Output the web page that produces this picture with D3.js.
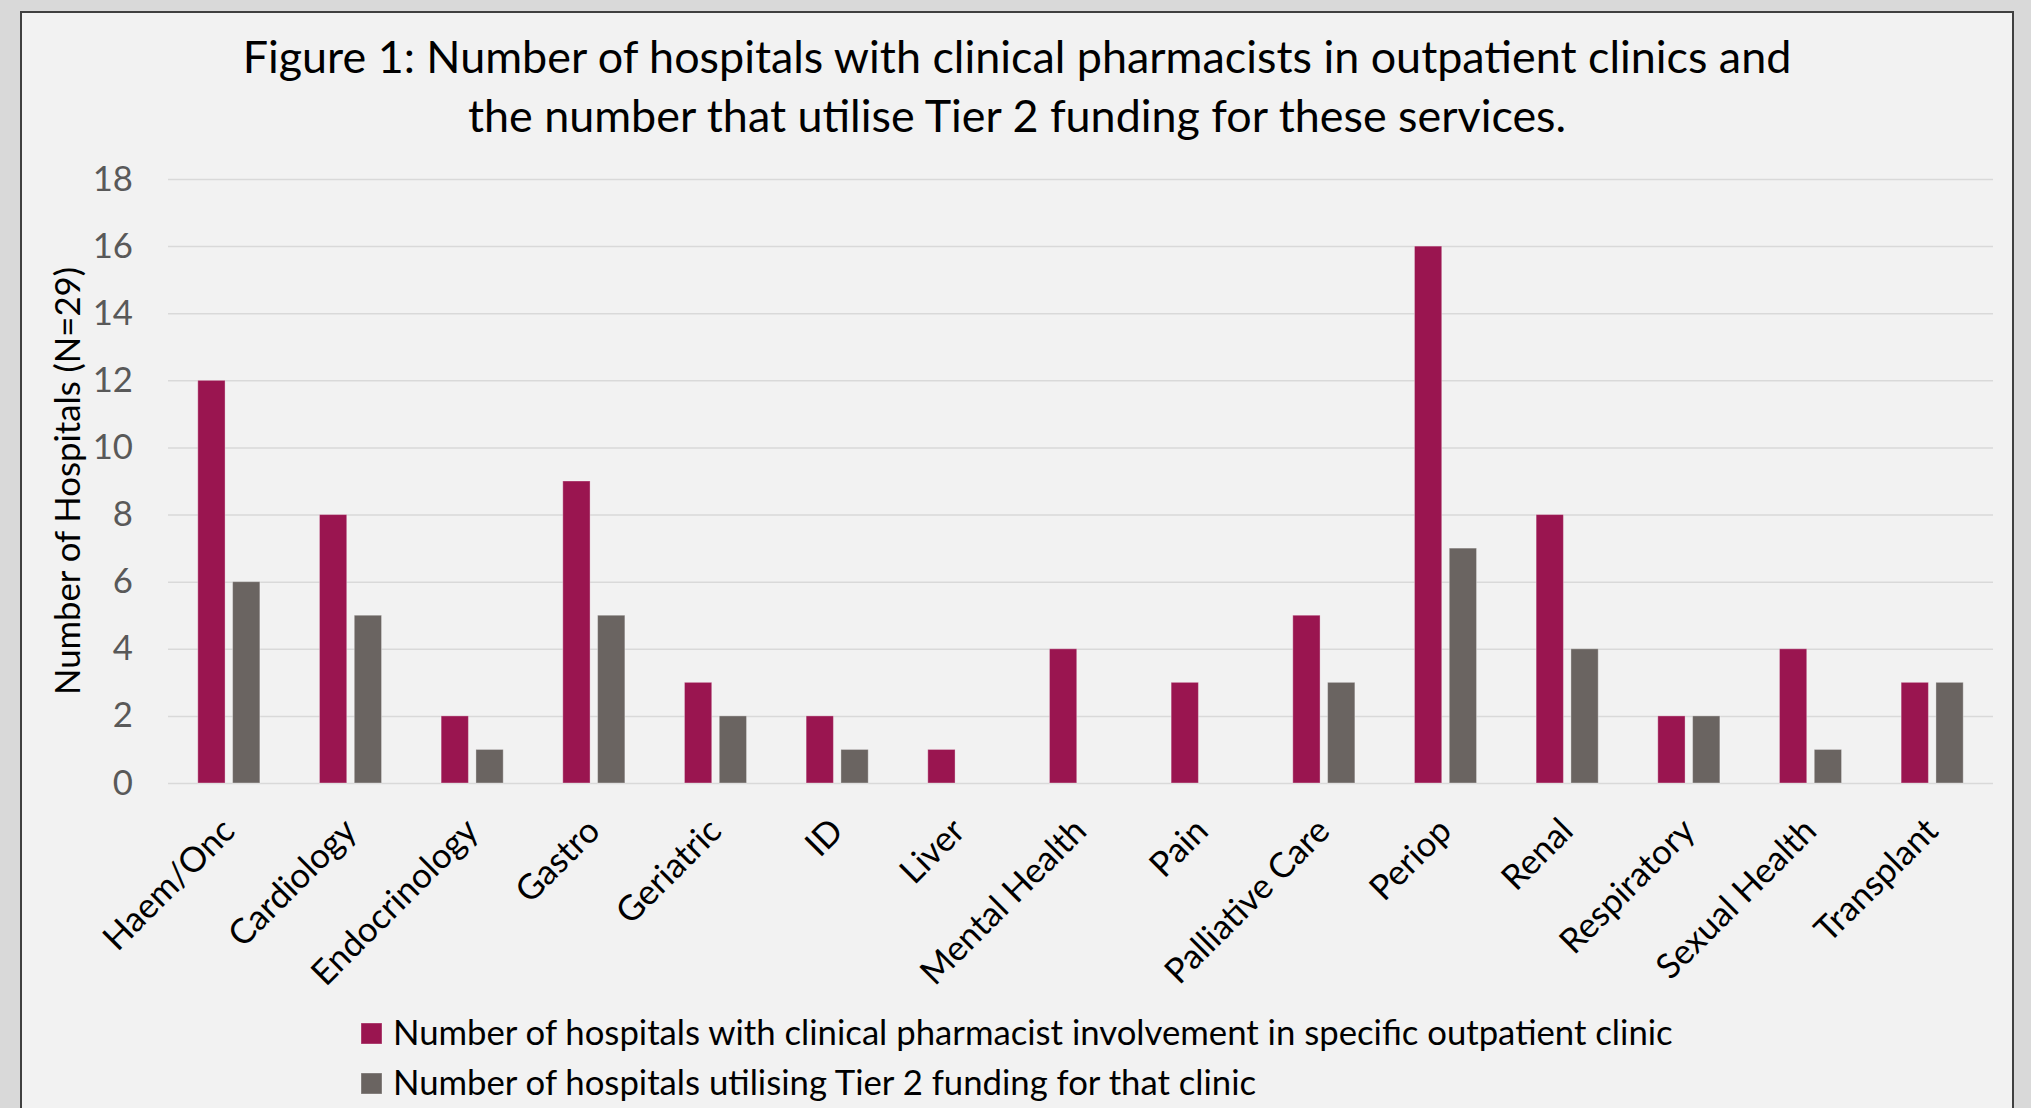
<!DOCTYPE html>
<html><head><meta charset="utf-8">
<script src="https://cdn.jsdelivr.net/npm/d3@7"></script>
<style>
html,body{margin:0;padding:0;background:#d9d9d9;overflow:hidden;}
svg{display:block;}
text{font-family:Lato,"Open Sans",sans-serif;}
</style></head><body>
<svg id="chart" width="2031" height="1108"></svg>
<script>
const categories = ["Haem/Onc","Cardiology","Endocrinology","Gastro","Geriatric","ID","Liver","Mental Health","Pain","Palliative Care","Periop","Renal","Respiratory","Sexual Health","Transplant"];
const involvement = [12,8,2,9,3,2,1,4,3,5,16,8,2,4,3];
const tier2 = [6,5,1,5,2,1,0,0,0,3,7,4,2,1,3];
const seriesNames = ["Number of hospitals with clinical pharmacist involvement in specific outpatient clinic","Number of hospitals utilising Tier 2 funding for that clinic"];
const seriesColors = ["#9a1550","#6a6461"];
const yTicks = [0,2,4,6,8,10,12,14,16,18];
const titleLines = ["Figure 1: Number of hospitals with clinical pharmacists in outpatient clinics and","the number that utilise Tier 2 funding for these services."];
const yTitle = "Number of Hospitals (N=29)";

const svg = d3.select("#chart");
const W = 2031, H = 1108;
const L = 168, R = 1993, T = 179, B = 783;

// panel
svg.append("rect").attr("x",0).attr("y",0).attr("width",W).attr("height",H).attr("fill","#d9d9d9");
svg.append("rect").attr("x",21).attr("y",12).attr("width",1992).attr("height",1130)
  .attr("fill","#f2f2f2").attr("stroke","#404040").attr("stroke-width",2);

// font fitting (Calibri-like metrics emulated with Lato)
function measure(str, size){
  const t = svg.append("text").attr("font-size",size).text(str);
  const w = t.node().getComputedTextLength(); t.remove(); return w;
}
const smallSize = 36 * 1280 / measure(seriesNames[0], 36);
const titleSize = 48 * 1549 / measure(titleLines[0], 48);

const y = d3.scaleLinear().domain([0,18]).range([B,T]);
const x0 = d3.scaleBand().domain(categories).range([L,R]).paddingInner(0).paddingOuter(0);
const x1 = d3.scaleBand().domain([0,1]).range([0,x0.bandwidth()]).paddingInner(0.216).paddingOuter(0.856);

// gridlines + y tick labels
const yAxis = svg.append("g").attr("transform",`translate(${L},0)`)
  .call(d3.axisLeft(y).tickValues(yTicks).tickSize(-(R-L)).tickPadding(35).tickFormat(d3.format("d")));
yAxis.select(".domain").remove();
yAxis.selectAll(".tick line").attr("stroke","#d9d9d9").attr("stroke-width",1.5);
yAxis.selectAll(".tick text").attr("fill","#595959").attr("font-size",smallSize)
  .attr("font-family","Lato,'Open Sans',sans-serif");

// bars
const rows = categories.map((c,i)=>({cat:c, vals:[involvement[i], tier2[i]]}));
const g = svg.append("g");
rows.forEach(r=>{
  r.vals.forEach((v,s)=>{
    if (v <= 0) return;
    g.append("rect")
      .attr("x", x0(r.cat) + x1(s))
      .attr("y", y(v))
      .attr("width", x1.bandwidth())
      .attr("height", y(0) - y(v))
      .attr("fill", seriesColors[s])
      .attr("stroke","rgba(255,255,255,0.35)").attr("stroke-width",1);
  });
});

// x labels
svg.append("g").selectAll("text").data(categories).join("text")
  .attr("transform", d=>`translate(${x0(d)+x0.bandwidth()/2+8},${B+50}) rotate(-45)`)
  .attr("text-anchor","end").attr("font-size",smallSize).attr("fill","#000")
  .text(d=>d);

// y title
svg.append("text").attr("transform",`translate(80,${(T+B)/2}) rotate(-90)`)
  .attr("text-anchor","middle").attr("font-size",smallSize).attr("fill","#000").text(yTitle);

// title
svg.append("g").selectAll("text").data(titleLines).join("text")
  .attr("x",1017).attr("y",(d,i)=>73 + i*59)
  .attr("text-anchor","middle").attr("font-size",titleSize).attr("fill","#000")
  .text(d=>d);

// legend
const leg = svg.append("g");
seriesNames.forEach((n,i)=>{
  leg.append("rect").attr("x",361).attr("y",1023 + i*50).attr("width",21).attr("height",21)
    .attr("fill",seriesColors[i]).attr("stroke","rgba(255,255,255,0.35)").attr("stroke-width",1);
  leg.append("text").attr("x",393).attr("y",1045 + i*50).attr("font-size",smallSize)
    .attr("fill","#000").text(n);
});
</script>
</body></html>
